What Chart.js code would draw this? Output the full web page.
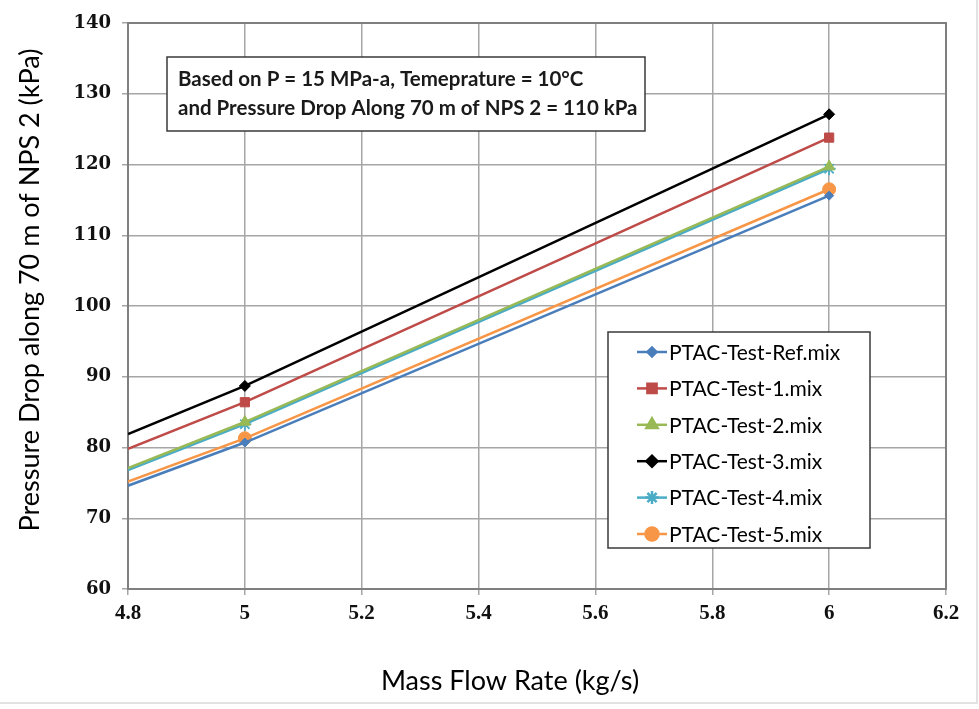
<!DOCTYPE html>
<html>
<head>
<meta charset="utf-8">
<script src="https://cdn.jsdelivr.net/npm/chart.js@4.4.1/dist/chart.umd.min.js"></script>
<style>
  body { margin: 0; background: #fff; }
  #wrap { width: 979px; height: 709px; }
</style>
</head>
<body>
<div id="wrap"><canvas id="flowChart" width="979" height="709"></canvas></div>
<script>
// mass flow rate (kg/s); 4.8 is where the lines enter the plot, no marker there
const massFlow = [4.8, 5, 6];

const refMix  = [74.6, 80.7, 115.6];
const test1   = [79.8, 86.4, 123.8];
const test2   = [77.1, 83.6, 119.7];
const test3   = [81.9, 88.7, 127.1];
const test4   = [76.8, 83.3, 119.4];
const test5   = [75.2, 81.3, 116.5];

const seriesNames = ['PTAC-Test-Ref.mix', 'PTAC-Test-1.mix', 'PTAC-Test-2.mix',
                     'PTAC-Test-3.mix', 'PTAC-Test-4.mix', 'PTAC-Test-5.mix'];

const xTicks = [4.8, 5, 5.2, 5.4, 5.6, 5.8, 6, 6.2];
const yTicks = [60, 70, 80, 90, 100, 110, 120, 130, 140];

const noteLines = ['Based on P = 15 MPa-a, Temeprature = 10\u00B0C',
                   'and Pressure Drop Along 70 m of NPS 2 = 110 kPa'];

const xTitle = 'Mass Flow Rate (kg/s)';
const yTitle = 'Pressure Drop along 70 m of NPS 2 (kPa)';

function makeSet(label, values, color, style, radius) {
    return {
        label,
        data: values.map((v, i) => ({ x: massFlow[i], y: v })),
        borderColor: color,
        backgroundColor: color,
        borderWidth: 2.5,
        pointStyle: style,
        pointRadius: values.map((v, i) => i === 0 ? 0 : radius),
        pointBorderWidth: style === 'star' ? 1.8 : 1,
        tension: 0
    };
}

const datasets = [
    makeSet(seriesNames[0], refMix, '#4A7EBB', 'rectRot', 4.5),
    makeSet(seriesNames[1], test1, '#BE4B48', 'rect', 6.5),
    makeSet(seriesNames[2], test2, '#98B954', 'triangle', 6.5),
    makeSet(seriesNames[3], test3, '#000000', 'rectRot', 5.5),
    makeSet(seriesNames[4], test4, '#4BACC6', 'star', 6.5),
    makeSet(seriesNames[5], test5, '#F79646', 'circle', 6.5)
];

// frame, note box, legend and axis titles
const decorations = {
    id: 'decorations',
    beforeDraw(chart) {
        const ctx = chart.ctx;
        ctx.save();
        ctx.fillStyle = '#fff';
        ctx.fillRect(0, 0, chart.width, chart.height);
        ctx.strokeStyle = '#d9d9d9';
        ctx.lineWidth = 1.5;
        ctx.strokeRect(-2, -2, 979, 705);
        ctx.restore();
    },
    beforeDatasetsDraw(chart) {
        const { ctx, chartArea: a } = chart;
        ctx.save();
        ctx.strokeStyle = '#7f7f7f';
        ctx.lineWidth = 2;
        ctx.strokeRect(a.left, a.top, a.right - a.left, a.bottom - a.top);
        ctx.restore();
    },
    afterDraw(chart) {
        const ctx = chart.ctx;
        ctx.save();

        // note box
        ctx.fillStyle = '#fff';
        ctx.fillRect(167, 57, 478, 74);
        ctx.strokeStyle = '#3a3a3a';
        ctx.lineWidth = 1.5;
        ctx.strokeRect(167, 57, 478, 74);
        ctx.fillStyle = '#1a1a1a';
        ctx.font = 'bold 20.5px Lato';
        ctx.textBaseline = 'middle';
        ctx.textAlign = 'left';
        ctx.fillText(noteLines[0], 178, 79);
        ctx.fillText(noteLines[1], 178, 108);

        // legend box
        ctx.fillStyle = '#fff';
        ctx.fillRect(608, 332, 262, 216);
        ctx.strokeStyle = '#3a3a3a';
        ctx.strokeRect(608, 332, 262, 216);
        ctx.font = '21px Lato';
        chart.data.datasets.forEach((ds, i) => {
            const y = 352 + i * 36.4;
            ctx.strokeStyle = ds.borderColor;
            ctx.lineWidth = 2.5;
            ctx.beginPath();
            ctx.moveTo(637, y);
            ctx.lineTo(667, y);
            ctx.stroke();
            Chart.helpers.drawPoint(ctx, {
                pointStyle: ds.pointStyle,
                radius: ds.pointRadius[1],
                rotation: 0,
                borderWidth: ds.pointBorderWidth
            }, 652, y);
            ctx.fillStyle = ds.borderColor;
            ctx.strokeStyle = ds.borderColor;
            ctx.fill();
            ctx.fillStyle = '#000';
            ctx.fillText(ds.label, 669, y + 1);
        });

        // axis titles
        ctx.fillStyle = '#000';
        ctx.font = '27px Lato';
        ctx.textAlign = 'center';
        ctx.fillText(xTitle, 510, 681);
        ctx.translate(30, 290);
        ctx.rotate(-Math.PI / 2);
        ctx.fillText(yTitle, 0, 0);
        ctx.restore();
    }
};

new Chart(document.getElementById('flowChart'), {
    type: 'line',
    data: { datasets },
    options: {
        responsive: false,
        animation: false,
        layout: { padding: { top: 23, right: 33, left: 0, bottom: 0 } },
        plugins: { legend: { display: false }, tooltip: { enabled: false } },
        scales: {
            x: {
                type: 'linear',
                min: 4.8, max: 6.2,
                afterBuildTicks: s => { s.ticks = xTicks.map(v => ({ value: v })); },
                afterFit: s => { s.height = 120; },
                grid: { color: '#a6a6a6', lineWidth: 1.5, tickLength: 6 },
                border: { display: false },
                ticks: {
                    color: '#111', padding: 6,
                    font: { family: 'Liberation Serif', size: 21, weight: 'bold' },
                    maxRotation: 0,
                    callback: v => String(v)
                }
            },
            y: {
                min: 60, max: 140,
                afterBuildTicks: s => { s.ticks = yTicks.map(v => ({ value: v })); },
                afterFit: s => { s.width = 128; },
                grid: { color: '#a6a6a6', lineWidth: 1.5, tickLength: 6 },
                border: { display: false },
                ticks: {
                    color: '#111', padding: 11,
                    font: { family: 'DejaVu Serif', size: 18, weight: 'bold' }
                }
            }
        }
    },
    plugins: [decorations]
});
</script>
</body>
</html>
